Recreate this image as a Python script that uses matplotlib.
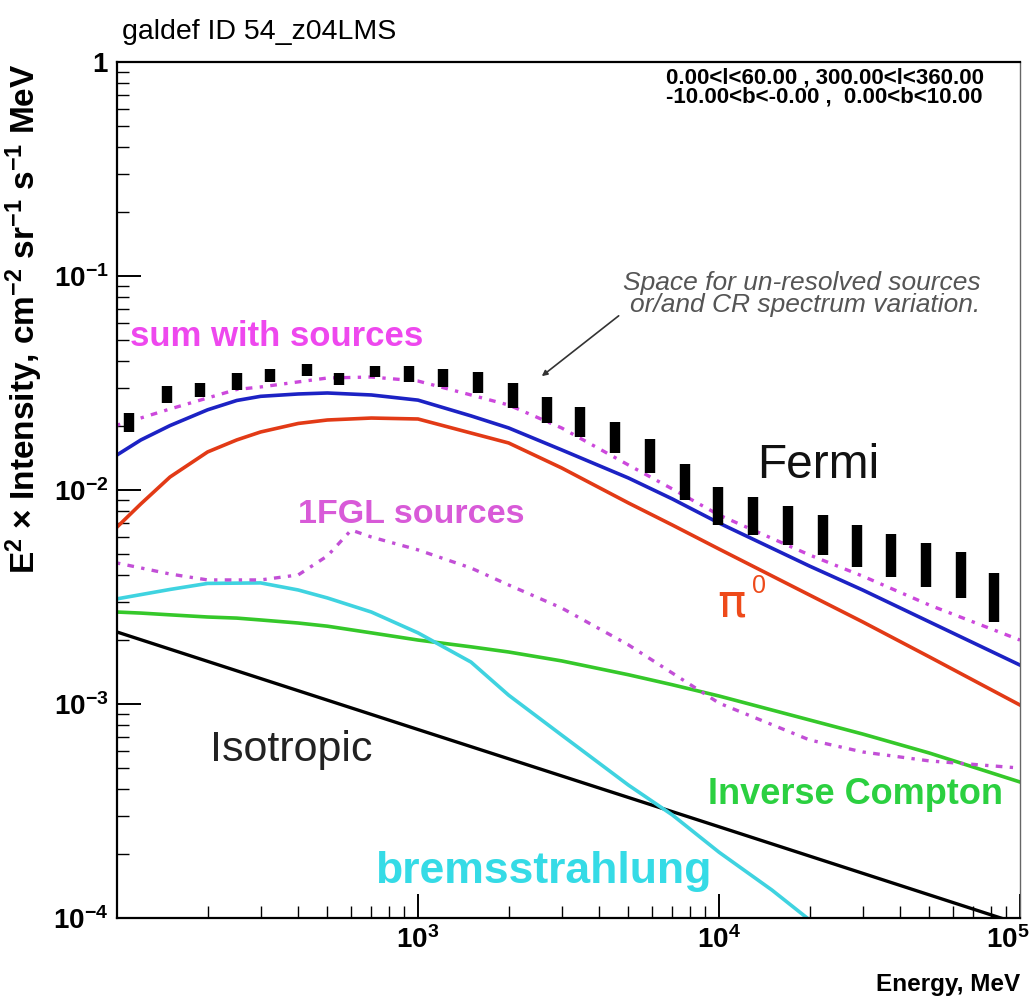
import numpy as np
import matplotlib.pyplot as plt
from matplotlib.ticker import FixedLocator, FixedFormatter, NullFormatter
from matplotlib.transforms import ScaledTranslation

plt.rcParams['font.family'] = ['Liberation Sans', 'DejaVu Sans']
plt.rcParams['mathtext.fontset'] = 'custom'
plt.rcParams['mathtext.rm'] = 'Liberation Sans'
plt.rcParams['mathtext.bf'] = 'Liberation Sans:bold'
plt.rcParams['mathtext.it'] = 'Liberation Sans:italic'

# Fermi data (energy in MeV, lower / upper edge of each bar)
E_fermi = [110, 147, 189, 251, 322, 428, 547, 720, 933, 1211, 1582, 2068, 2685,
           3453, 4508, 5896, 7706, 9931, 12980, 16950, 22160, 28730, 37240,
           48710, 63690, 82000]
fermi_lo = [0.0187, 0.0255, 0.0272, 0.0293, 0.0320, 0.0341, 0.0310, 0.0337,
            0.0320, 0.0303, 0.0284, 0.0242, 0.0206, 0.0177, 0.0149, 0.0120,
            0.00898, 0.00686, 0.00616, 0.00554, 0.00497, 0.00437, 0.00392,
            0.00352, 0.00313, 0.00241]
fermi_hi = [0.0229, 0.0306, 0.0316, 0.0352, 0.0367, 0.0388, 0.0352, 0.0380,
            0.0380, 0.0367, 0.0356, 0.0316, 0.0272, 0.0244, 0.0208, 0.0173,
            0.0132, 0.0103, 0.00927, 0.00842, 0.00764, 0.00686, 0.00623,
            0.00566, 0.00513, 0.00409]

# model components
E_grid = [100, 120, 150, 200, 250, 300, 400, 500, 700, 1000, 1500, 2000, 3000,
          5000, 7000, 1e4, 2e4, 3e4, 5e4, 1e5]
total = [0.01458, 0.01713, 0.0200, 0.0237, 0.0262, 0.0274, 0.0281, 0.0284, 0.0278,
         0.0263, 0.0222, 0.0195, 0.0154, 0.01138, 0.00908, 0.00701, 0.00441,
         0.00341, 0.00242, 0.00152]
pion = [0.00671, 0.00861, 0.0115, 0.01506, 0.01714, 0.01867, 0.02046, 0.02124,
        0.02169, 0.02147, 0.01846, 0.01659, 0.01268, 0.00870, 0.00686, 0.00530,
        0.00323, 0.00242, 0.00166, 0.000989]
sum_src = [0.0201, 0.0217, 0.02391, 0.02692, 0.0295, 0.03030, 0.0320, 0.03337,
           0.03373, 0.03230, 0.0278, 0.02496, 0.0195, 0.01309, 0.01011, 0.00764,
           0.00497, 0.00396, 0.00290, 0.00199]
ic = [0.00269, 0.00266, 0.00261, 0.00255, 0.00252, 0.00247, 0.00239, 0.00231,
      0.00215, 0.00199, 0.00185, 0.00175, 0.00159, 0.00137, 0.00123, 0.00109,
      0.000842, 0.000724, 0.000590, 0.000432]

E_src = [100, 150, 200, 300, 400, 500, 600, 700, 1000, 1500, 2000, 3000, 5000,
         1e4, 2e4, 3e4, 5e4, 1e5]
src = [0.00456, 0.00405, 0.00380, 0.00380, 0.00401, 0.00492, 0.00650, 0.00603,
       0.00525, 0.00432, 0.00360, 0.00281, 0.00189, 0.00101, 0.000679, 0.000597,
       0.000542, 0.000502]

E_brems = [100, 150, 200, 300, 400, 500, 700, 1000, 1500, 2000, 3000, 5000, 7000,
           1e4, 1.5e4, 2e4]
brems = [0.00310, 0.00343, 0.00366, 0.00368, 0.00341, 0.00313, 0.00269, 0.00215,
         0.00157, 0.00110, 0.000716, 0.000418, 0.000303, 0.000203, 0.000135,
         0.0000979]

E_iso = [100, 1000, 1e4, 1e5]
iso = [0.00217, 0.00076, 0.000267, 0.0000935]

W, H = 1032, 1002
fig = plt.figure(figsize=(W / 100, H / 100), dpi=100)
ax = fig.add_axes([117 / W, 1 - 918 / H, 903 / W, 856 / H])
ax.set_xscale('log')
ax.set_yscale('log')
ax.set_xlim(100, 1e5)
ax.set_ylim(1e-4, 1)

ax.plot(E_iso, iso, color='black', lw=2.4)
ax.plot(E_grid, ic, color='#35c82a', lw=2.6)
ax.plot(E_brems, brems, color='#3fd3e0', lw=2.6)
ax.plot(E_src, src, color='#c24fd6', lw=2.4, linestyle=(0, (1, 2.2, 2, 2.2)))
ax.plot(E_grid, pion, color='#e23a16', lw=2.6)
ax.plot(E_grid, total, color='#1c22c4', lw=2.6)
ax.plot(E_grid, sum_src, color='#cc48dc', lw=2.4, linestyle=(0, (1, 2.2, 2, 2.2)))
bars = ax.vlines(E_fermi, fermi_lo, fermi_hi, color='black', lw=7.5)
bars.set_capstyle('butt')

# axes style
for s in ['left', 'bottom', 'top']:
    ax.spines[s].set_linewidth(1.6)
ax.spines['right'].set_linewidth(1.0)
ax.spines['right'].set_color('#666666')
ax.tick_params(which='major', direction='in', length=17, width=1.4,
               top=False, right=False, labelsize=20, pad=6)
ax.tick_params(which='minor', direction='in', length=8.5, width=1.0,
               top=False, right=False)

ax.xaxis.set_major_locator(FixedLocator([1e3, 1e4, 1e5]))
ax.xaxis.set_major_formatter(FixedFormatter([r'$\mathbf{10^{3}}$', r'$\mathbf{10^{4}}$',
                                             r'$\mathbf{10^{5}}$']))
xminor = [m * 10 ** d for d in (2, 3, 4) for m in range(2, 10)]
ax.xaxis.set_minor_locator(FixedLocator(xminor))
ax.xaxis.set_minor_formatter(NullFormatter())

ax.yaxis.set_major_locator(FixedLocator([1e-4, 1e-3, 1e-2, 1e-1, 1]))
ax.yaxis.set_major_formatter(FixedFormatter([r'$\mathbf{10^{-4}}$', r'$\mathbf{10^{-3}}$',
                                             r'$\mathbf{10^{-2}}$', r'$\mathbf{10^{-1}}$',
                                             r'$\mathbf{1}$']))
yminor = [m * 10.0 ** d for d in (-4, -3, -2, -1) for m in range(2, 10)]
ax.yaxis.set_minor_locator(FixedLocator(yminor))
ax.yaxis.set_minor_formatter(NullFormatter())

# pull the 10^5 label back inside the picture like the original
fig.canvas.draw()
last = ax.get_xticklabels()[-1]
last.set_transform(last.get_transform() + ScaledTranslation(-0.12, 0, fig.dpi_scale_trans))

# labels
fig.text(122 / W, 1 - 32 / H, 'galdef ID 54_z04LMS', fontsize=20.5, ha='left', va='center')
fig.text(24 / W, 1 - 64 / H,
         r'E$^{\mathbf{2}}$ × Intensity, cm$^{\mathbf{-2}}$ sr$^{\mathbf{-1}}$ s$^{\mathbf{-1}}$ MeV',
         rotation=90, ha='center', va='top', fontsize=24, fontweight='bold')
fig.text(1020 / W, 1 - 984 / H, 'Energy, MeV', ha='right', va='center',
         fontsize=17.5, fontweight='bold')

ax.text(0.608, 0.970, '0.00<l<60.00 , 300.00<l<360.00\n-10.00<b<-0.00 ,  0.00<b<10.00',
        transform=ax.transAxes, ha='left', va='center', fontsize=16,
        fontweight='bold', linespacing=0.85)
ax.text(0.956, 0.729, 'Space for un-resolved sources\nor/and CR spectrum variation.',
        transform=ax.transAxes, ha='right', va='center', fontsize=19,
        style='italic', color='#555555', multialignment='right', linespacing=0.92)
ax.annotate('', xy=(0.468, 0.631), xytext=(0.558, 0.7055), xycoords='axes fraction',
            arrowprops=dict(arrowstyle='-|>', color='#333333', lw=1.2, mutation_scale=8))

ax.text(0.0144, 0.679, 'sum with sources', transform=ax.transAxes, color='#ee48ee',
        fontsize=25, fontweight='bold', ha='left', va='center')
ax.text(0.200, 0.471, '1FGL sources', transform=ax.transAxes, color='#d85ad8',
        fontsize=24.5, fontweight='bold', ha='left', va='center')
ax.text(0.709, 0.529, 'Fermi', transform=ax.transAxes, color='#111111',
        fontsize=34.5, ha='left', va='center')
ax.text(0.665, 0.367, 'π', transform=ax.transAxes, color='#ee4a1a',
        fontsize=34, ha='left', va='center', family='DejaVu Sans')
ax.text(0.703, 0.388, '0', transform=ax.transAxes, color='#ee4a1a',
        fontsize=18, ha='left', va='center')
ax.text(0.103, 0.196, 'Isotropic', transform=ax.transAxes, color='#222222',
        fontsize=31, ha='left', va='center')
ax.text(0.654, 0.144, 'Inverse Compton', transform=ax.transAxes, color='#2bd040',
        fontsize=26, fontweight='bold', ha='left', va='center', clip_on=False)
ax.text(0.286, 0.054, 'bremsstrahlung', transform=ax.transAxes, color='#35dbe6',
        fontsize=32, fontweight='bold', ha='left', va='center')

fig.savefig('out.png', dpi=100)
